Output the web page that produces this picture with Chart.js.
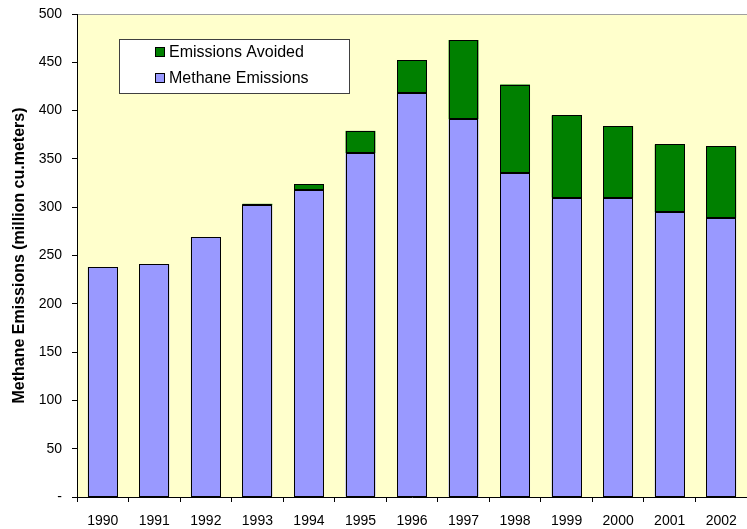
<!DOCTYPE html>
<html>
<head>
<meta charset="utf-8">
<script src="https://cdn.jsdelivr.net/npm/chart.js@4/dist/chart.umd.min.js"></script>
<style>
html,body{margin:0;padding:0;background:#fff;}
#wrap{width:747px;height:529px;}
</style>
</head>
<body>
<div id="wrap"><canvas id="c" width="747" height="529"></canvas></div>
<script>
const years = ['1990','1991','1992','1993','1994','1995','1996','1997','1998','1999','2000','2001','2002'];
const methaneEmissions = [238, 241, 269, 302, 318, 356, 418, 391, 335, 310, 310, 295, 289];
const emissionsAvoided = [0, 0, 0, 1.5, 6, 23, 34, 82, 92, 85, 74, 70, 74];
const yTickValues = [0, 50, 100, 150, 200, 250, 300, 350, 400, 450, 500];

const FONT = 'Liberation Sans, Arial, sans-serif';

const bgPlugin = {
  id: 'bg',
  beforeDraw(chart) {
    const {ctx, chartArea: a} = chart;
    ctx.save();
    ctx.fillStyle = '#FFFFCC';
    ctx.fillRect(a.left, a.top, a.right - a.left, a.bottom - a.top);
    ctx.strokeStyle = '#A0A0A0';
    ctx.lineWidth = 1;
    ctx.beginPath();
    ctx.moveTo(a.left, Math.round(a.top) + 0.5);
    ctx.lineTo(a.right, Math.round(a.top) + 0.5);
    ctx.stroke();
    ctx.restore();
  }
};

const outlinePlugin = {
  id: 'outline',
  afterDatasetsDraw(chart) {
    const ctx = chart.ctx;
    ctx.save();
    ctx.strokeStyle = '#000';
    ctx.lineWidth = 1;
    chart.data.datasets.forEach((ds, di) => {
      const meta = chart.getDatasetMeta(di);
      meta.data.forEach((el, i) => {
        if (!ds.data[i]) return;
        const p = el.getProps(['x', 'y', 'base', 'width'], true);
        const l = Math.round(p.x - p.width / 2) + 0.5;
        const r = Math.round(p.x + p.width / 2) - 0.5;
        const t = Math.round(Math.min(p.y, p.base)) + 0.5;
        const b = Math.round(Math.max(p.y, p.base)) - 0.5;
        ctx.strokeRect(l, t, r - l, Math.max(b - t, 0));
      });
    });
    ctx.restore();
  }
};

const legendPlugin = {
  id: 'boxLegend',
  afterDraw(chart) {
    const ctx = chart.ctx;
    const x = 119.5, y = 39.5, w = 230, h = 54;
    ctx.save();
    ctx.fillStyle = '#FFFFFF';
    ctx.fillRect(x, y, w, h);
    ctx.strokeStyle = '#404040';
    ctx.lineWidth = 1;
    ctx.strokeRect(x, y, w, h);
    const items = [chart.data.datasets[1], chart.data.datasets[0]];
    ctx.font = '16px ' + FONT;
    ctx.textBaseline = 'middle';
    ctx.textAlign = 'left';
    items.forEach((ds, i) => {
      const cy = 53 + i * 26;
      ctx.fillStyle = ds.backgroundColor;
      ctx.fillRect(155.5, cy - 5.5, 9, 9);
      ctx.strokeStyle = '#000';
      ctx.strokeRect(155.5, cy - 5.5, 9, 9);
      ctx.fillStyle = '#000';
      ctx.fillText(ds.label, 169, cy);
    });
    ctx.restore();
  }
};

new Chart(document.getElementById('c'), {
  type: 'bar',
  data: {
    labels: years,
    datasets: [
      {
        label: 'Methane Emissions',
        data: methaneEmissions,
        backgroundColor: '#9999FF',
        borderWidth: 0,
        barPercentage: 0.58,
        categoryPercentage: 1.0
      },
      {
        label: 'Emissions Avoided',
        data: emissionsAvoided,
        backgroundColor: '#008000',
        borderWidth: 0,
        barPercentage: 0.58,
        categoryPercentage: 1.0
      }
    ]
  },
  options: {
    responsive: false,
    animation: false,
    devicePixelRatio: 1,
    layout: { padding: { top: 14, right: 0, left: 0, bottom: 0 } },
    plugins: { legend: { display: false }, tooltip: { enabled: false } },
    scales: {
      x: {
        stacked: true,
        offset: true,
        grid: {
          display: true,
          offset: true,
          drawOnChartArea: false,
          drawTicks: true,
          tickLength: 5,
          color: '#000'
        },
        border: { display: true, color: '#000', width: 1 },
        ticks: {
          color: '#000',
          font: { family: FONT, size: 14 },
          padding: 11,
          maxRotation: 0,
          autoSkip: false
        },
        afterFit(scale) { scale.height = 32; scale.paddingLeft = 0; scale.paddingRight = 0; }
      },
      y: {
        stacked: true,
        min: 0,
        max: 500,
        afterBuildTicks(scale) { scale.ticks = yTickValues.map(v => ({ value: v })); },
        grid: {
          display: true,
          drawOnChartArea: false,
          drawTicks: true,
          tickLength: 5,
          color: '#000'
        },
        border: { display: true, color: '#000', width: 1 },
        ticks: {
          color: '#000',
          font: { family: FONT, size: 14 },
          padding: 10,
          callback: (v) => v === 0 ? '-' : String(v)
        },
        title: {
          display: true,
          text: 'Methane Emissions (million cu.meters)',
          color: '#000',
          font: { family: FONT, size: 16, weight: 'bold' },
          padding: { top: 10, bottom: 4 }
        },
        afterFit(scale) { scale.width = 77; scale.paddingTop = 0; scale.paddingBottom = 0; }
      }
    }
  },
  plugins: [bgPlugin, outlinePlugin, legendPlugin]
});
</script>
</body>
</html>
